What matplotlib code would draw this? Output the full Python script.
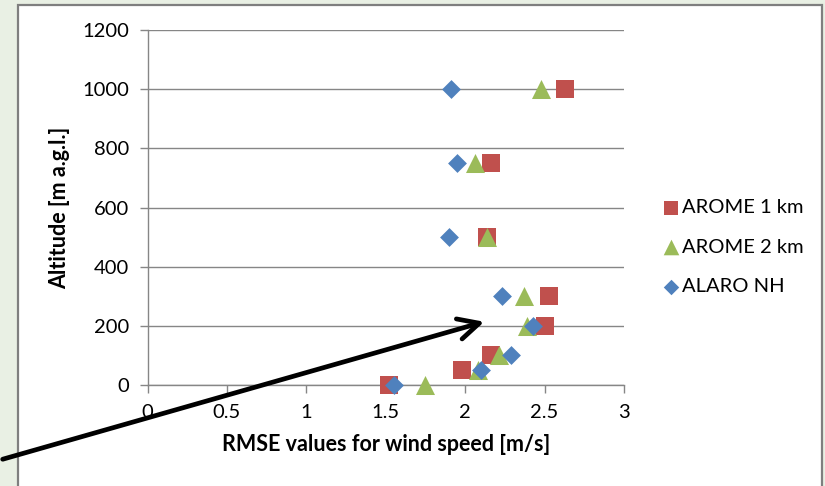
import matplotlib
matplotlib.use("Agg")
import matplotlib.pyplot as plt
from matplotlib.patches import Rectangle, FancyArrowPatch

plt.rcParams['font.family'] = ['Lato', 'DejaVu Sans']

altitude = [1000, 750, 500, 300, 200, 100, 50, 0]
arome_1km = [2.63, 2.16, 2.14, 2.53, 2.50, 2.16, 1.98, 1.52]
arome_2km = [2.48, 2.06, 2.14, 2.37, 2.39, 2.21, 2.08, 1.75]
alaro_nh = [1.91, 1.95, 1.90, 2.23, 2.43, 2.29, 2.10, 1.55]

series_names = ["AROME 1 km", "AROME 2 km", "ALARO NH"]
x_ticks = [0, 0.5, 1, 1.5, 2, 2.5, 3]
x_tick_labels = ["0", "0.5", "1", "1.5", "2", "2.5", "3"]
y_ticks = [0, 200, 400, 600, 800, 1000, 1200]

W, H = 825, 486
fig = plt.figure(figsize=(W / 100, H / 100), dpi=100)
fig.patch.set_facecolor('#e9f0e4')

# slide box
box = Rectangle((18 / W, -0.05), (822 - 18) / W, (H - 5) / H + 0.05,
                transform=fig.transFigure, facecolor='white',
                edgecolor='#7f7f7f', linewidth=1.6, zorder=0)
fig.add_artist(box)

ax = fig.add_axes([147.5 / W, 1 - 385 / H, (624 - 147.5) / W, (385 - 30) / H])
ax.set_facecolor('none')

gray = '#868686'
ax.scatter(arome_1km, altitude, marker='s', s=13.0 ** 2, color='#C0504D',
           label=series_names[0], zorder=3, linewidths=0, clip_on=False)
ax.scatter(arome_2km, altitude, marker='^', s=13.7 ** 2, color='#9BBB59',
           label=series_names[1], zorder=4, linewidths=0, clip_on=False)
ax.scatter(alaro_nh, altitude, marker='D', s=9.6 ** 2, color='#4F81BD',
           label=series_names[2], zorder=5, linewidths=0, clip_on=False)

ax.set_xlim(0, 3)
ax.set_ylim(0, 1200)
ax.set_xticks(x_ticks)
ax.set_xticklabels(x_tick_labels)
ax.set_yticks(y_ticks)
ax.yaxis.grid(True, color=gray, linewidth=1.0)
ax.set_axisbelow(True)
for s in ['top', 'right']:
    ax.spines[s].set_visible(False)
for s in ['left', 'bottom']:
    ax.spines[s].set_color(gray)
    ax.spines[s].set_linewidth(1.0)
ax.tick_params(axis='both', colors=gray, labelcolor='black', length=6,
               width=1.0, labelsize=14.5)
ax.tick_params(axis='y', pad=7)
ax.tick_params(axis='x', pad=8)

ax.set_xlabel("RMSE values for wind speed [m/s]", fontsize=15.5,
              fontweight='bold', labelpad=9)
ax.set_ylabel("Altitude [m a.g.l.]", fontsize=15.5, fontweight='bold',
              labelpad=9)

leg = ax.legend(loc='upper left', bbox_to_anchor=(661 / W, 1 - 199 / H),
                bbox_transform=fig.transFigure, frameon=False,
                fontsize=14.5, handletextpad=0.05, labelspacing=1.12,
                borderaxespad=0, borderpad=0, handlelength=1.0,
                scatterpoints=1, markerscale=0.82)

arrow = FancyArrowPatch((0 / W, 1 - 460 / H), (487 / W, 1 - 321 / H),
                        transform=fig.transFigure,
                        arrowstyle='->,head_length=15,head_width=7.5',
                        mutation_scale=1, color='black', linewidth=3.4,
                        zorder=10)
fig.add_artist(arrow)

fig.savefig('out.png', dpi=100, facecolor=fig.get_facecolor())
